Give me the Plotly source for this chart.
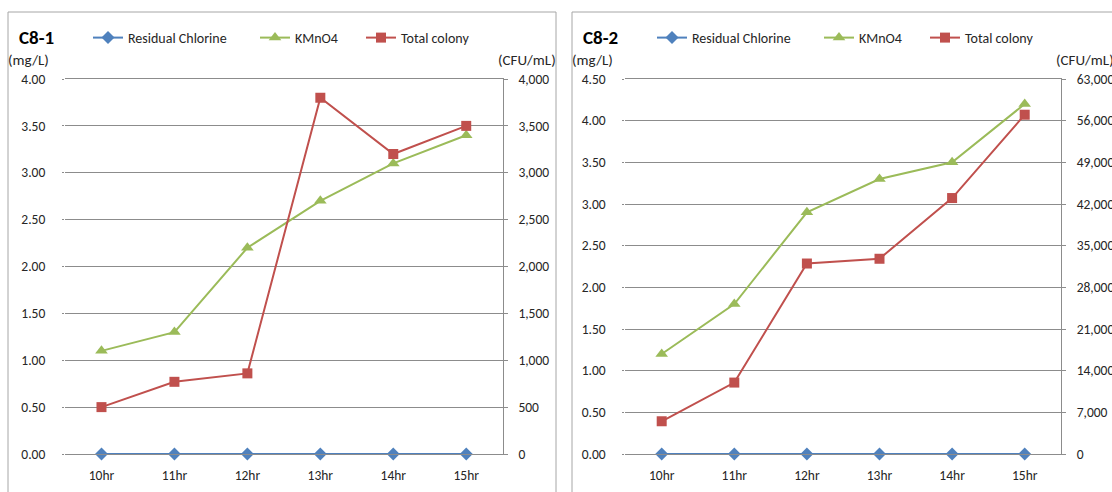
import plotly.graph_objects as go

# Sampling hours shared by both sites
hours = ["10hr", "11hr", "12hr", "13hr", "14hr", "15hr"]

# Site C8-1
c81_chlorine = [0, 0, 0, 0, 0, 0]                 # mg/L
c81_kmno4 = [1.10, 1.30, 2.20, 2.70, 3.10, 3.40]  # mg/L
c81_colony = [500, 770, 860, 3800, 3200, 3500]    # CFU/mL

# Site C8-2
c82_chlorine = [0, 0, 0, 0, 0, 0]
c82_kmno4 = [1.20, 1.80, 2.90, 3.30, 3.50, 4.20]
c82_colony = [5500, 12000, 32000, 32800, 43000, 57000]

# Axis scales
c81_left_max, c81_left_step = 4.0, 0.5
c81_right_max, c81_right_step = 4000, 500
c82_left_max, c82_left_step = 4.5, 0.5
c82_right_max, c82_right_step = 63000, 7000

BLUE = "#4F81BD"
GREEN = "#9BBB59"
RED = "#C0504D"
GRID = "#8C8C8C"
TXT = "#262626"
FONT = "Carlito, Calibri, Lato, sans-serif"

W, H = 1112, 492


def px(x):
    return x / W


def py(y):
    return 1 - y / H


fig = go.Figure()

panels = [
    dict(name="C8-1", chl=c81_chlorine, kmn=c81_kmno4, col=c81_colony,
         lmax=c81_left_max, lstep=c81_left_step,
         rmax=c81_right_max, rstep=c81_right_step,
         plot=(65, 502.7), frame=(8, 556), legends=(88, 255, 361)),
    dict(name="C8-2", chl=c82_chlorine, kmn=c82_kmno4, col=c82_colony,
         lmax=c82_left_max, lstep=c82_left_step,
         rmax=c82_right_max, rstep=c82_right_step,
         plot=(625.4, 1061), frame=(572, 1200), legends=(652, 819, 925)),
]

plot_top, plot_bottom = 79, 454
legend_no = 1
for i, p in enumerate(panels):
    xa = "x" if i == 0 else f"x{i + 1}"
    ya_l = f"y{2 * i + 1}" if i else "y"
    ya_r = f"y{2 * i + 2}"
    series = [
        ("Residual Chlorine", p["chl"], BLUE, "diamond", 10, ya_l),
        ("KMnO4", p["kmn"], GREEN, "triangle-up", 11, ya_l),
        ("Total colony", p["col"], RED, "square", 10, ya_r),
    ]
    for (label, vals, color, sym, size, ya), lx in zip(series, p["legends"]):
        lname = "legend" if legend_no == 1 else f"legend{legend_no}"
        fig.add_trace(go.Scatter(
            x=hours, y=vals, name=label, mode="lines+markers",
            line=dict(color=color, width=2),
            marker=dict(symbol=sym, size=size, color=color),
            xaxis=xa, yaxis=ya, legend=lname, cliponaxis=False,
        ))
        fig.layout[lname] = dict(
            x=px(lx), y=py(38), xanchor="left", yanchor="middle",
            orientation="h", bgcolor="rgba(0,0,0,0)", borderwidth=0,
            font=dict(family=FONT, size=14, color=TXT), itemwidth=30,
        )
        legend_no += 1

    x0, x1 = p["plot"]
    xdom = [px(x0), px(x1)]
    ydom = [py(plot_bottom), py(plot_top)]
    xkey = "xaxis" if i == 0 else f"xaxis{i + 1}"
    ylkey = "yaxis" if i == 0 else f"yaxis{2 * i + 1}"
    yrkey = f"yaxis{2 * i + 2}"
    # bottom and top edges drawn by the x axis line so the outer gridlines show
    fig.layout[xkey] = dict(
        domain=xdom, anchor=ya_l, type="category", range=[-0.5, 5.5],
        showgrid=False, showline=True, mirror=True, linecolor=GRID,
        linewidth=1, ticks="", zeroline=False, ticklabelstandoff=9,
        tickfont=dict(family=FONT, size=13.5, color=TXT),
    )
    fig.layout[ylkey] = dict(
        domain=ydom, anchor=xa, range=[0, p["lmax"]], dtick=p["lstep"],
        tick0=0, tickformat=".2f", showgrid=True, gridcolor=GRID,
        gridwidth=1, zeroline=False, showline=False, ticks="outside",
        ticklen=2, tickcolor=GRID, ticklabelstandoff=14,
        tickfont=dict(family=FONT, size=13.5, color=TXT),
    )
    fig.layout[yrkey] = dict(
        domain=ydom, anchor=xa, overlaying=ya_l, side="right",
        range=[0, p["rmax"]], dtick=p["rstep"], tick0=0,
        tickformat=",d", showgrid=False, zeroline=False, showline=True,
        linecolor=GRID, linewidth=1, ticks="outside", ticklen=4,
        tickcolor=GRID, ticklabelstandoff=8,
        tickfont=dict(family=FONT, size=13.5, color=TXT),
    )

    f0, f1 = p["frame"]
    fig.add_shape(type="rect", xref="paper", yref="paper",
                  x0=px(f0), x1=px(f1), y0=-0.2, y1=py(12),
                  line=dict(color="#A6A6A6", width=1), layer="below")
    fig.add_annotation(text="<b>" + p["name"] + "</b>", xref="paper",
                       yref="paper", x=px(f0 + 9), y=py(37), xanchor="left",
                       yanchor="middle", showarrow=False,
                       font=dict(family=FONT, size=19, color="#000000"))
    fig.add_annotation(text="(mg/L)", xref="paper", yref="paper",
                       x=px(f0 - 2), y=py(60), xanchor="left",
                       yanchor="middle", showarrow=False,
                       font=dict(family=FONT, size=15, color=TXT))
    fig.add_annotation(text="(CFU/mL)", xref="paper", yref="paper",
                       x=px(x1 + 55), y=py(60), xanchor="right",
                       yanchor="middle", showarrow=False,
                       font=dict(family=FONT, size=15, color=TXT))

fig.update_layout(
    width=W, height=H, margin=dict(l=0, r=0, t=0, b=0, autoexpand=False),
    paper_bgcolor="white", plot_bgcolor="white", showlegend=True,
)

fig.write_html("out.html")
